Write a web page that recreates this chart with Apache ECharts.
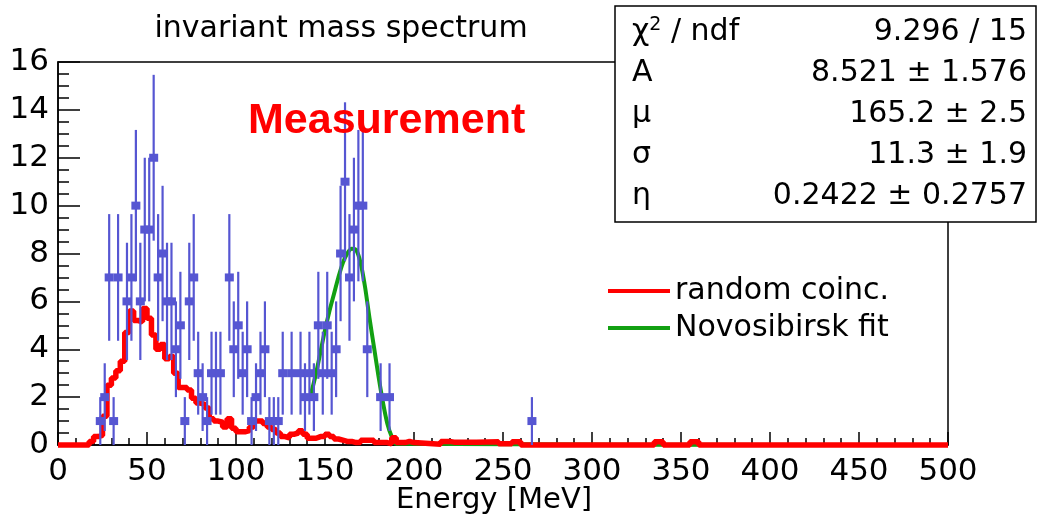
<!DOCTYPE html>
<html>
<head>
<meta charset="utf-8">
<script src="https://cdn.jsdelivr.net/npm/echarts@6/dist/echarts.min.js"></script>
<style>
html,body{margin:0;padding:0;background:#fff;}
#chart{width:1042px;height:522px;}
</style>
</head>
<body>
<div id="chart"></div>
<script>
// ---- data ----
const xTicks = [0, 50, 100, 150, 200, 250, 300, 350, 400, 450, 500];
const yTicks = [0, 2, 4, 6, 8, 10, 12, 14, 16];

// measured histogram (bin centres, counts); error = sqrt(count)
const pointX = [23.75, 26.25, 28.75, 31.25, 33.75, 38.75, 41.25, 43.75, 46.25, 48.75,
                51.25, 53.75, 56.25, 58.75, 61.25, 63.75, 66.25, 68.75, 71.25, 73.75,
                76.25, 78.75, 81.25, 83.75, 86.25, 88.75, 91.25, 96.25, 98.75, 101.25,
                103.75, 106.25, 108.75, 111.25, 113.75, 116.25, 118.75, 121.25, 123.75, 126.25,
                131.25, 136.25, 138.75, 141.25, 143.75, 146.25, 148.75, 151.25, 153.75, 156.25,
                158.75, 161.25, 163.75, 166.25, 168.75, 171.25, 173.75, 181.25, 186.25, 266.25];
const pointY = [1, 2, 7, 1, 7, 6, 7, 10, 6, 9,
                9, 12, 7, 8, 6, 6, 4, 5, 1, 6,
                7, 3, 2, 1, 3, 3, 3, 7, 4, 5,
                3, 4, 1, 2, 3, 4, 1, 1, 1, 3,
                3, 3, 2, 3, 2, 5, 3, 5, 3, 4,
                8, 11, 7, 9, 10, 10, 4, 2, 2, 1];

// random coincidences histogram: [bin left edge, value]
const redSteps = [
  [0, 0], [17.5, 0.15], [20, 0.35], [22.5, 0.4], [25, 1.2], [27.5, 2.5], [30, 2.8], [32.5, 3.1],
  [35, 3.5], [37.5, 4.7], [40, 5.6], [42.5, 5.2], [45, 5.15], [47.5, 5.7], [50, 5.3], [52.5, 4.6],
  [55, 4.0], [57.5, 4.2], [60, 3.6], [62.5, 3.7], [65, 3.0], [67.5, 2.4], [70, 2.4], [72.5, 2.3],
  [75, 1.95], [77.5, 1.75], [80, 1.7], [82.5, 1.55], [85, 1.1], [87.5, 1.0], [90, 0.95], [92.5, 0.75],
  [95, 1.1], [97.5, 0.7], [100, 0.55], [102.5, 0.55], [105, 0.6], [107.5, 0.75], [110, 1.0], [112.5, 1.0],
  [115, 0.9], [117.5, 0.75], [120, 0.65], [122.5, 0.5], [125, 0.35], [127.5, 0.3], [130, 0.45], [132.5, 0.5],
  [135, 0.6], [137.5, 0.45], [140, 0.28], [142.5, 0.28], [145, 0.35], [147.5, 0.35], [150, 0.45], [152.5, 0.35],
  [155, 0.25], [157.5, 0.2], [160, 0.15], [162.5, 0.15], [165, 0.1], [167.5, 0.1], [170, 0.2], [172.5, 0.2],
  [175, 0.2], [177.5, 0.1], [180, 0.1], [182.5, 0.1], [185, 0.05], [187.5, 0.3], [190, 0.1], [192.5, 0.1],
  [195, 0.15], [197.5, 0.1], [200, 0.03], [215, 0.15], [220, 0.12], [222.5, 0.12], [235, 0.14], [247.5, 0.05],
  [255, 0.14], [257.5, 0.14], [260, 0], [335, 0.14], [340, 0], [355, 0.14], [360, 0], [500, 0]
];

// Novosibirsk fit curve
const greenX = [141.5, 145, 147.5, 150, 152.5, 155, 157.5, 160, 162.5, 165, 167.5, 170, 172.5, 175, 177.5, 180, 182.5, 185, 187.5, 190, 500];
const greenY = [1.95, 3.0, 3.9, 4.8, 5.6, 6.3, 7.0, 7.6, 8.0, 8.2, 8.15, 7.6, 6.6, 5.3, 4.1, 2.9, 1.8, 0.9, 0.35, 0.05, 0];

// fit statistics box
const statNames = ['χ{sup|2} / ndf', 'A', 'μ', 'σ', 'η'];
const statValues = ['9.296 / 15', '8.521 ± 1.576', '165.2 ± 2.5', '11.3 ± 1.9', '0.2422 ± 0.2757'];

// ---- chart ----
const FONT = 'DejaVu Sans';
const BLUE = '#5656d2';
const chart = echarts.init(document.getElementById('chart'), null, {renderer: 'canvas'});

const statRowY = [32, 73, 114, 155, 196];
const statGraphics = [{
  type: 'rect', shape: {x: 615, y: 6, width: 421, height: 216},
  style: {fill: '#fff', stroke: '#000', lineWidth: 1.5}, z: 100
}];
statNames.forEach((n, i) => {
  statGraphics.push({
    type: 'text', x: 632, y: statRowY[i], z: 101,
    style: {text: n, font: '30px "' + FONT + '"', fill: '#000', textVerticalAlign: 'middle', textAlign: 'left',
      rich: {sup: {fontSize: 19, fontFamily: FONT, verticalAlign: 'top', padding: [0, 0, 14, 0]}}}
  });
  statGraphics.push({
    type: 'text', x: 1027, y: statRowY[i], z: 101,
    style: {text: statValues[i], font: '30px "' + FONT + '"', fill: '#000', textVerticalAlign: 'middle', textAlign: 'right'}
  });
});

const option = {
  animation: false,
  backgroundColor: '#fff',
  grid: {left: 58, right: 94, top: 62, bottom: 77, show: true, borderColor: '#000', borderWidth: 1.5, backgroundColor: 'transparent'},
  xAxis: {
    type: 'value', min: xTicks[0], max: xTicks[xTicks.length - 1], interval: 50,
    axisLine: {show: true, lineStyle: {color: '#000', width: 1.5}},
    axisTick: {show: true, inside: true, length: 13, lineStyle: {color: '#000', width: 1.5}},
    minorTick: {show: true, splitNumber: 5, length: 7, lineStyle: {color: '#000', width: 1.5}},
    axisLabel: {fontSize: 31, fontFamily: FONT, color: '#000', margin: 11},
    splitLine: {show: false}, minorSplitLine: {show: false}
  },
  yAxis: {
    type: 'value', min: yTicks[0], max: yTicks[yTicks.length - 1], interval: 2,
    axisLine: {show: true, lineStyle: {color: '#000', width: 1.5}},
    axisTick: {show: true, inside: true, length: 22, lineStyle: {color: '#000', width: 1.5}},
    minorTick: {show: true, splitNumber: 4, length: 11, lineStyle: {color: '#000', width: 1.5}},
    axisLabel: {fontSize: 31, fontFamily: FONT, color: '#000', margin: 9},
    splitLine: {show: false}, minorSplitLine: {show: false}
  },
  legend: {
    data: ['random coinc.', 'Novosibirsk fit'],
    orient: 'vertical', left: 603, top: 271, itemWidth: 62, itemHeight: 4, itemGap: 7, icon: 'rect',
    textStyle: {fontSize: 30, fontFamily: FONT, color: '#000', lineHeight: 30}
  },
  series: [
    {
      name: 'Novosibirsk fit', type: 'line', z: 2, clip: false, showSymbol: false, symbol: 'none', smooth: 0.3,
      data: greenX.map((x, i) => [x, greenY[i]]),
      lineStyle: {color: '#12a012', width: 4}, itemStyle: {color: '#12a012'}
    },
    {
      name: 'random coinc.', type: 'line', z: 3, clip: false, showSymbol: false, symbol: 'none', step: 'end',
      data: redSteps.map(d => [d[0], d[1]]),
      lineStyle: {color: '#ff0000', width: 5.5}, itemStyle: {color: '#ff0000'}
    },
    {
      name: 'data', type: 'custom', z: 4, clip: false,
      data: pointX.map((x, i) => [x, pointY[i]]),
      encode: {x: 0, y: 1},
      renderItem: function (params, api) {
        const x = api.value(0), y = api.value(1), e = Math.sqrt(y);
        const p = api.coord([x, y]);
        const lo = api.coord([x, y - e]);
        const hi = api.coord([x, y + e]);
        return {
          type: 'group', children: [
            {type: 'line', shape: {x1: p[0], y1: lo[1], x2: p[0], y2: hi[1]}, style: {stroke: BLUE, lineWidth: 2.2}},
            {type: 'rect', shape: {x: p[0] - 4.5, y: p[1] - 4, width: 9, height: 8}, style: {fill: BLUE}}
          ]
        };
      }
    }
  ],
  graphic: [
    {type: 'text', x: 341, y: 29, style: {text: 'invariant mass spectrum', font: '30px "' + FONT + '"', fill: '#000', textAlign: 'center', textVerticalAlign: 'middle'}},
    {type: 'text', x: 494, y: 500, style: {text: 'Energy [MeV]', font: '29px "' + FONT + '"', fill: '#000', textAlign: 'center', textVerticalAlign: 'middle'}},
    {type: 'text', x: 248, y: 121, z: 50, style: {text: 'Measurement', font: 'bold 43px "Liberation Sans"', fill: '#ff0000', textAlign: 'left', textVerticalAlign: 'middle'}}
  ].concat(statGraphics)
};
chart.setOption(option);
</script>
</body>
</html>
